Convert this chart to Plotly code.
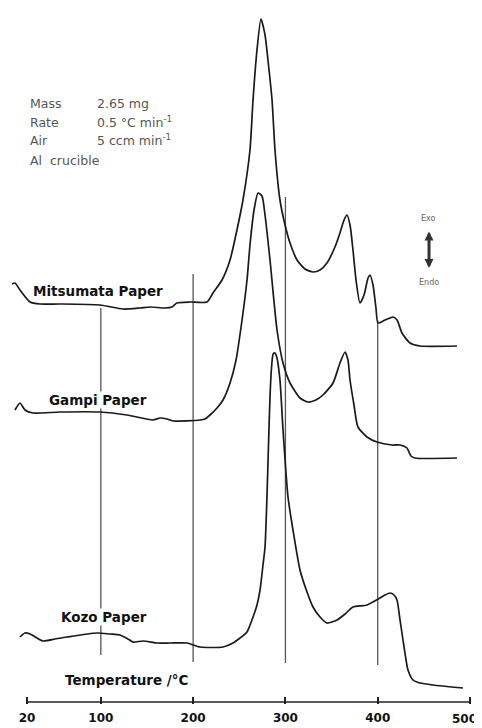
import plotly.graph_objects as go

# ---- data (temperature in degC, signal in arbitrary offset units) ----
mitsumata_T = [3.8, 7.0, 12.4, 23.3, 34.1, 55.8, 99.1, 124.0, 142.4, 153.3, 169.5, 177.1, 182.5,
               196.6, 215.0, 221.5, 231.3, 240.0, 247.5, 254.0, 261.6, 264.9, 269.2, 273.5, 277.9,
               281.1, 285.5, 288.7, 294.1, 299.6, 305.0, 312.6, 321.2, 329.9, 337.5, 345.0, 353.7,
               359.1, 363.5, 366.7, 370.0, 373.2, 376.5, 380.8, 385.2, 389.5, 391.6, 394.9, 398.1,
               400.3, 407.9, 413.3, 416.6, 421.0, 426.3, 435.0, 445.8, 485.9]
mitsumata_y = [418, 419, 412, 400, 398, 398, 397, 393, 394, 395, 394, 395, 399,
               400, 400, 409, 422, 442, 472, 502, 552, 602, 652, 683, 667,
               642, 602, 552, 502, 477, 459, 442, 433, 430, 432, 439, 455,
               469, 482, 487, 477, 452, 422, 399, 407, 424, 427, 417, 394,
               379, 382, 384, 385, 382, 369, 359, 356, 356]

gampi_T = [7.0, 12.4, 17.8, 26.5, 55.8, 99.1, 128.4, 156.5, 164.1, 171.7, 178.2, 207.5, 212.9,
           218.3, 225.9, 232.4, 240.0, 246.5, 253.0, 258.4, 261.6, 266.0, 270.3, 274.6, 277.9,
           283.3, 290.9, 297.4, 305.0, 315.8, 324.5, 333.0, 340.7, 351.6, 359.1, 364.6, 367.8,
           370.0, 374.3, 378.6, 388.4, 399.2, 415.5, 424.2, 431.7, 436.0, 440.0, 485.9]
gampi_y = [292, 299, 292, 289, 290, 290, 287, 282, 284, 283, 281, 282, 283,
           287, 294, 302, 319, 342, 382, 422, 457, 492, 509, 506, 487,
           442, 372, 339, 319, 304, 300, 302, 307, 319, 339, 350, 342,
           322, 297, 275, 265, 260, 257, 257, 254, 246, 244, 244]

kozo_T = [12.4, 17.8, 23.3, 30.8, 37.3, 50.3, 63.3, 95.8, 109.9, 120.8, 129.4, 134.8, 145.7,
          160.9, 174.9, 193.4, 207.5, 232.4, 243.2, 250.8, 258.4, 264.9, 269.2, 272.5, 275.7,
          277.9, 280.0, 281.6, 283.3, 285.0, 286.7, 288.7, 290.6, 294.1, 297.4, 302.8, 308.2,
          315.8, 323.4, 329.9, 337.5, 345.0, 355.9, 364.6, 373.2, 388.4, 402.5, 407.9, 413.3,
          417.7, 420.9, 424.2, 427.4, 430.7, 432.8, 438.2, 445.8, 459.9, 492.4]
kozo_y = [65, 69, 68, 64, 61, 63, 65, 69, 68, 67, 63, 60, 61,
          59, 59, 59, 55, 55, 59, 64, 70, 85, 97, 112, 137,
          155, 205, 255, 305, 335, 348, 349, 345, 322, 272, 205, 172,
          132, 110, 95, 85, 79, 82, 88, 95, 97, 104, 107, 109,
          107, 102, 82, 62, 42, 32, 22, 19, 17, 14]

ref_temps = [100, 200, 300, 400]
ref_top = [394, 428, 505, 382]
ref_bottom = [47, 40, 39, 37]

tick_vals = [20, 100, 200, 300, 400, 500]
tick_text = ["20", "100", "200", "300", "400", "500"]

info_labels = ["Mass", "Rate", "Air", "Al  crucible"]
info_values = ["2.65 mg", "0.5 °C min<sup>-1</sup>", "5 ccm min<sup>-1</sup>", ""]

curve_names = ["Mitsumata Paper", "Gampi Paper", "Kozo Paper"]

fig = go.Figure()
for T, y, name in [(mitsumata_T, mitsumata_y, curve_names[0]),
                   (gampi_T, gampi_y, curve_names[1]),
                   (kozo_T, kozo_y, curve_names[2])]:
    fig.add_trace(go.Scatter(x=T, y=y, mode="lines", name=name,
                             line=dict(color="#1a1a1a", width=1.7, shape="spline", smoothing=0.6),
                             showlegend=False, hoverinfo="skip"))

# reference temperature lines
for t, y0, y1 in zip(ref_temps, ref_top, ref_bottom):
    fig.add_shape(type="line", x0=t, x1=t, y0=y1, y1=y0, xref="x", yref="y",
                  line=dict(color="#555555", width=1.3), layer="below")

# baseline axis line from 20 to 500
fig.add_shape(type="line", x0=tick_vals[0], x1=tick_vals[-1], y0=0, y1=0, xref="x", yref="y",
              line=dict(color="#222222", width=1.6))

ann = []
label_font = dict(family="DejaVu Sans", size=13.5, color="#111111", weight="bold")
label_pos = [(97, 411), (97, 302), (103, 85)]
for name, (lx, ly) in zip(curve_names, label_pos):
    ann.append(dict(x=lx, y=ly, xref="x", yref="y", text=name, showarrow=False,
                    font=label_font, bgcolor="white", borderpad=0))

ann.append(dict(x=128, y=22, xref="x", yref="y", text="Temperature /°C", showarrow=False,
                font=label_font))

info_font = dict(family="DejaVu Sans", size=12.5, color="#555555")
info_y = [599, 580, 562, 542]
for lab, val, iy in zip(info_labels, info_values, info_y):
    ann.append(dict(x=21, y=iy, xref="x", yref="y", text=lab, showarrow=False,
                    xanchor="left", font=info_font))
    if val:
        ann.append(dict(x=94, y=iy, xref="x", yref="y", text=val, showarrow=False,
                        xanchor="left", font=info_font))

small_font = dict(family="DejaVu Sans", size=8, color="#666666")
ann.append(dict(x=455.5, y=484, xref="x", yref="y", text="Exo", showarrow=False, font=small_font))
ann.append(dict(x=456, y=420, xref="x", yref="y", text="Endo", showarrow=False, font=small_font))
ann.append(dict(x=455.6, y=434, ax=455.6, ay=472, xref="x", yref="y", axref="x", ayref="y",
                text="", showarrow=True, arrowhead=2, arrowside="end+start",
                arrowsize=0.6, arrowwidth=3, arrowcolor="#333333"))

tick_font = dict(family="DejaVu Sans", size=12, color="#111111", weight="bold")
# last tick label sits at the right page edge: drawn right-aligned so it is not cut off
ann.append(dict(x=1.0, y=-0.022, xref="paper", yref="paper", text=tick_text[-1],
                showarrow=False, xanchor="right", yanchor="middle", font=tick_font))

# page body has an 8px margin, so the figure is 8px smaller than the window
fig.update_layout(
    width=474, height=720,
    margin=dict(l=1, r=3, t=0, b=24, autoexpand=False),
    paper_bgcolor="white", plot_bgcolor="white",
    annotations=ann,
    xaxis=dict(range=[0.5, 509.75], showgrid=False, zeroline=False, showline=False,
               automargin=False,
               tickmode="array", tickvals=tick_vals, ticktext=tick_text[:-1] + [""],
               ticks="inside", ticklen=7, tickwidth=1.5, tickcolor="#222222",
               ticklabelstandoff=5,
               tickfont=tick_font),
    yaxis=dict(range=[-2, 694], visible=False, showgrid=False, zeroline=False,
               automargin=False),
)

fig.write_html("out.html")
